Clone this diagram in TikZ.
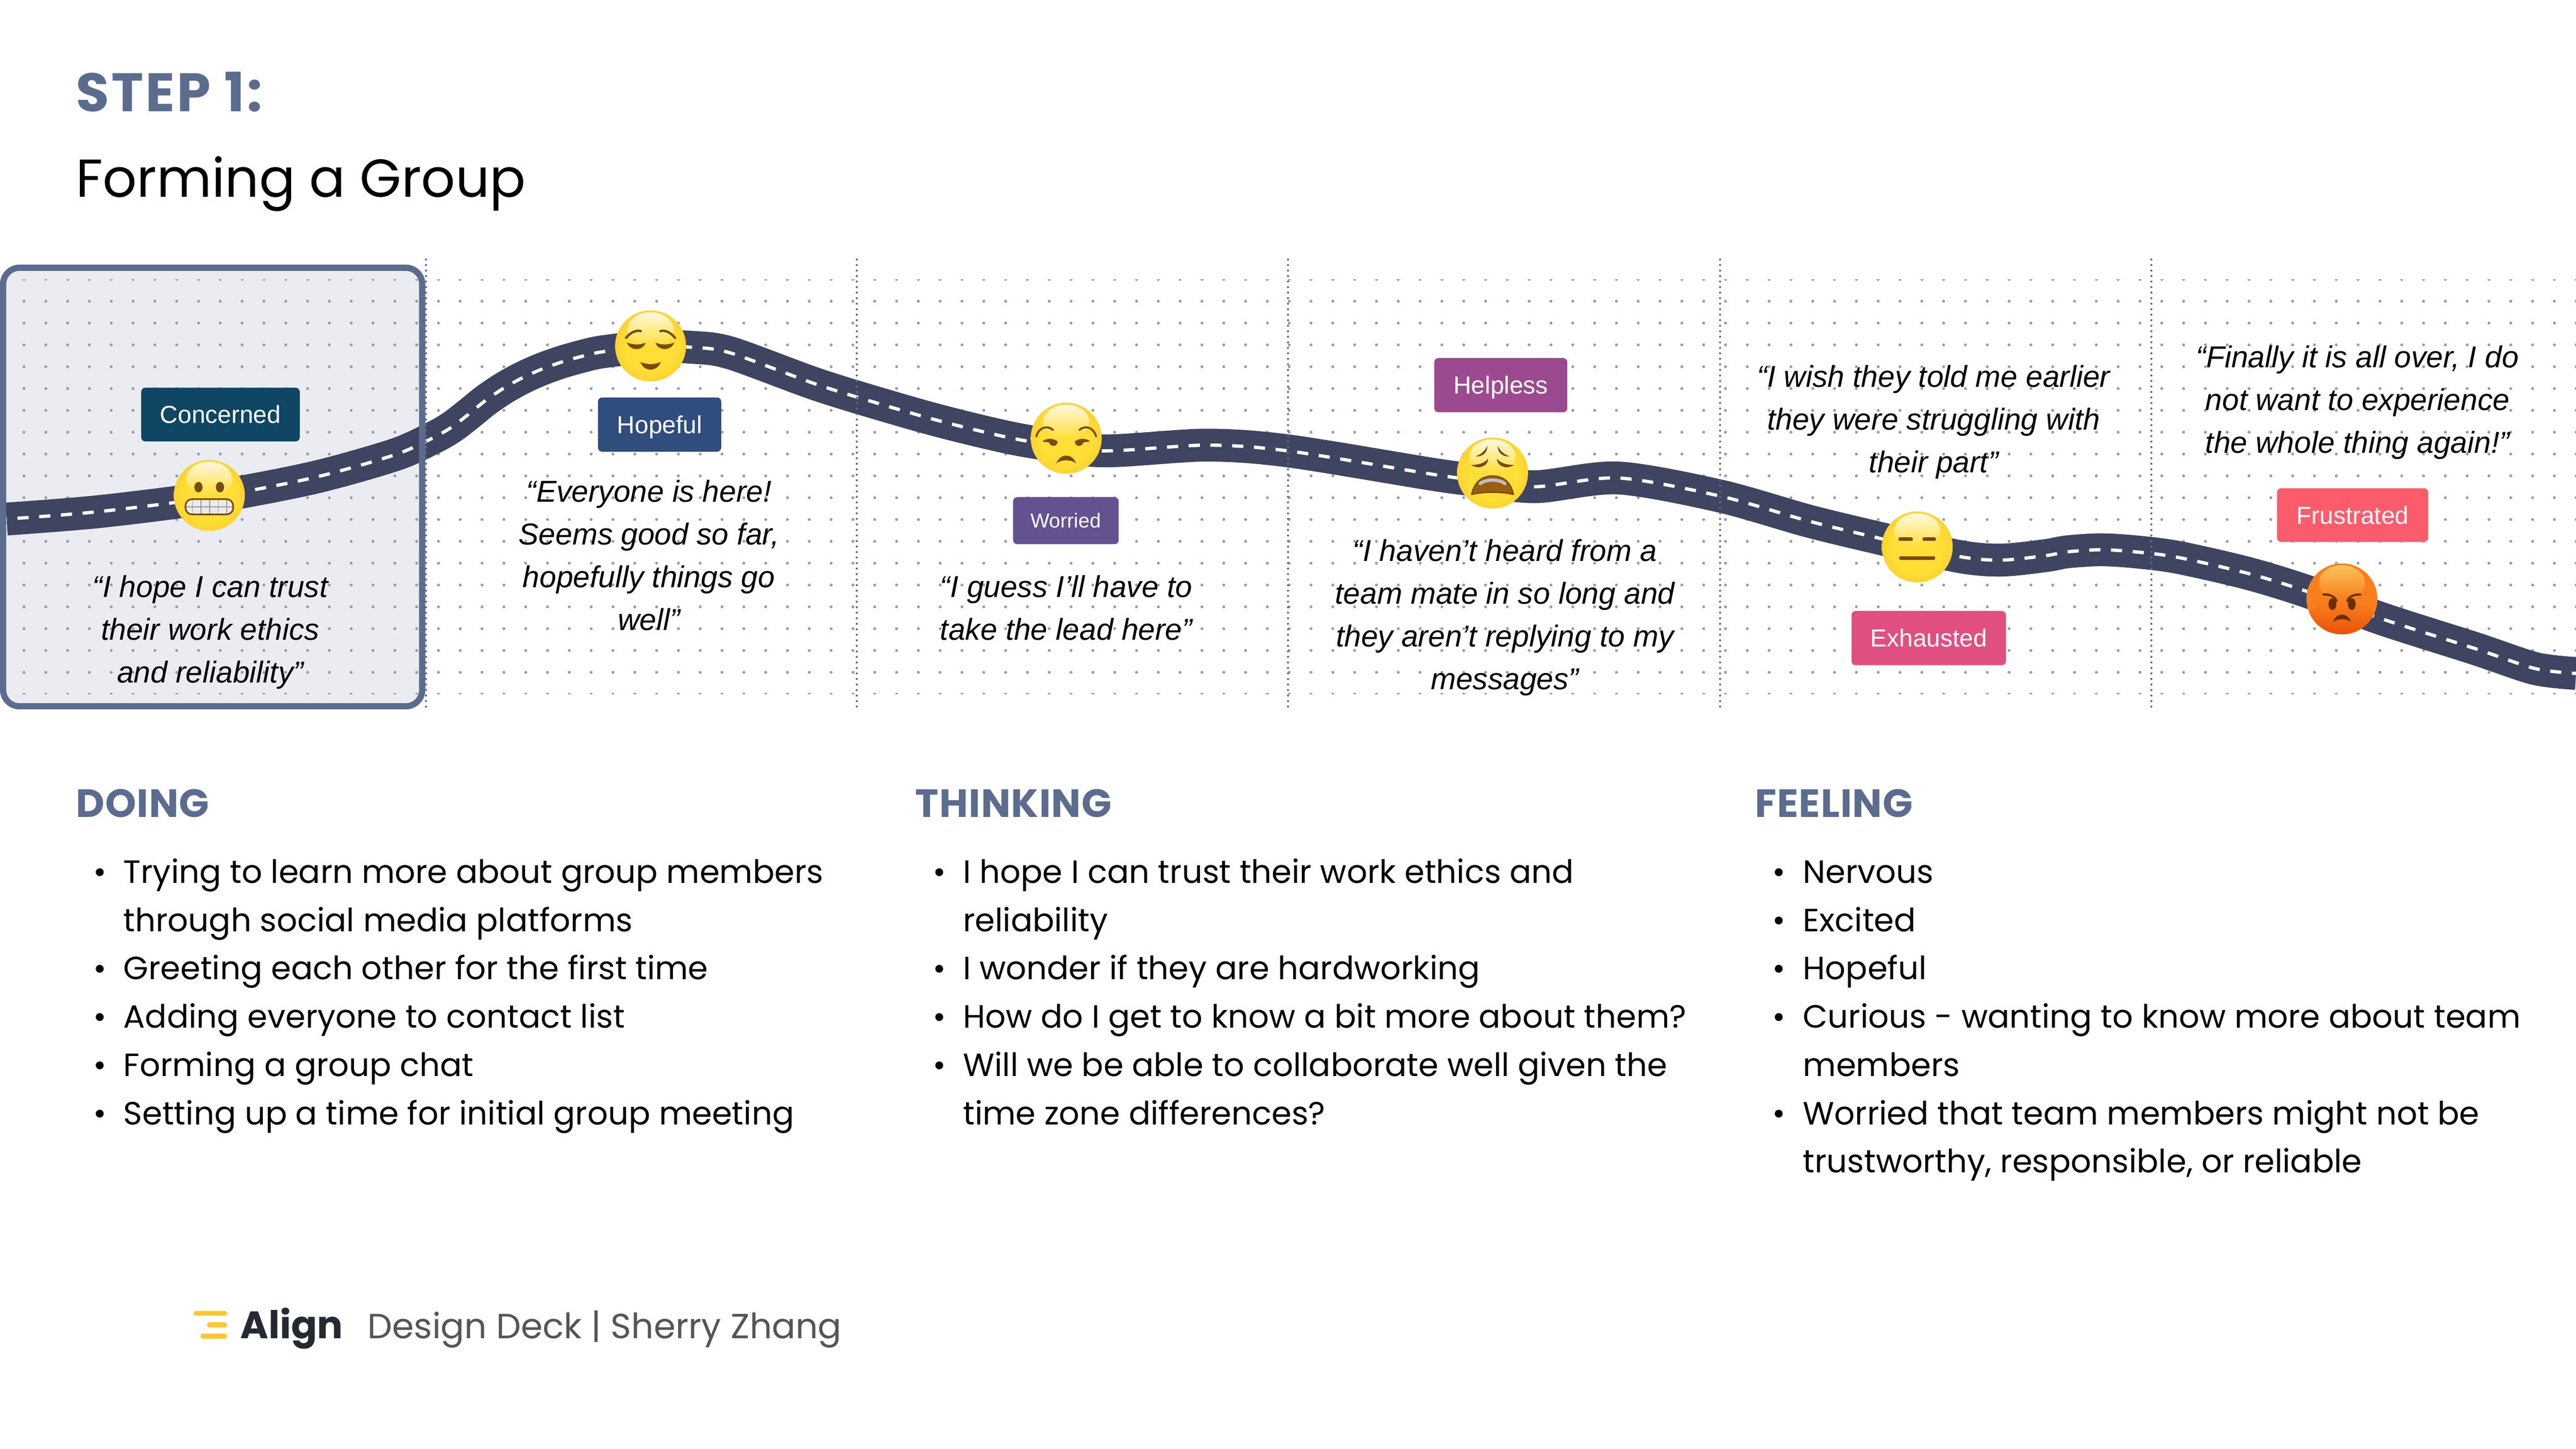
\documentclass[tikz,border=0pt]{standalone}
\usepackage{fontspec}
\usetikzlibrary{fadings}
\setmainfont{Poppins}
\newfontfamily\tagfont{Liberation Sans}
\definecolor{slatehead}{HTML}{5C6C8E}
\definecolor{panelfill}{HTML}{EAECF1}
\definecolor{griddot}{HTML}{979DA6}
\definecolor{roadblue}{HTML}{3F4560}
\definecolor{browbrown}{HTML}{7A4A0E}
\definecolor{mouthbrown}{HTML}{9A5E12}
\definecolor{facecore}{HTML}{FFDE35}
\definecolor{facemid}{HTML}{FCC22E}
\definecolor{faceedge}{HTML}{F2A316}
\definecolor{faceline}{HTML}{DB7F06}
\definecolor{angrycore}{HTML}{F97F1C}
\definecolor{angryedge}{HTML}{F06A10}
\definecolor{angrylow}{HTML}{EA5207}
\definecolor{angryhigh}{HTML}{FBCF66}
\definecolor{angryink}{HTML}{6B3000}
\definecolor{tagconcerned}{HTML}{0E4663}
\definecolor{taghopeful}{HTML}{2F4D7D}
\definecolor{tagworried}{HTML}{64518F}
\definecolor{taghelpless}{HTML}{9C4A8F}
\definecolor{tagexhausted}{HTML}{E04F80}
\definecolor{tagfrustrated}{HTML}{FB5C6C}
\definecolor{logoyellow}{HTML}{FFC72C}
\definecolor{logoink}{HTML}{252A32}
\definecolor{deckgrey}{HTML}{555555}
\pgfdeclareradialshading{yellowball}{\pgfpoint{0bp}{0bp}}{color(0bp)=(facecore); color(18bp)=(facecore); color(36bp)=(facemid); color(46bp)=(faceedge); color(50bp)=(faceline)}
\pgfdeclareradialshading{angryball}{\pgfpoint{0bp}{0bp}}{color(0bp)=(angrycore); color(30bp)=(angrycore); color(46bp)=(angryedge); color(50bp)=(angrylow)}
\newcommand{\faceball}[2]{
	\shade [shading=#1] (0,0) circle (21.6);
	\fill [#2, path fading=south, opacity=0.85] (0,10) ellipse (14 and 10.5);
}
\tikzset{
	pics/grimaceface/.style={code={
		\faceball{yellowball}{white}
		\fill [browbrown] (-6.6,5) ellipse (2.5 and 3.2);
		\fill [browbrown] (6.5,5) ellipse (2.5 and 3.2);
		\draw [browbrown, line width=1, fill=black!8, rounded corners=4] (-14.5,-2.3) rectangle (14.5,-11.6);
		\draw [black!40, line width=0.5] (-14,-7) -- (14,-7);
		\foreach \gx in {-10.3,-5.1,0.2,5.4,10.6}
			\draw [black!40, line width=0.5] (\gx,-2.8) -- (\gx,-11.1);
	}},
	pics/reliefface/.style={code={
		\faceball{yellowball}{white}
		\foreach \sx in {-1,1} {
			\draw [browbrown, line width=1.4, line cap=round] (\sx*14.9,4.9) .. controls (\sx*12,8.5) and (\sx*8.5,9.8) .. (\sx*6,9);
			\fill [browbrown] (\sx*14.5,2) .. controls (\sx*10,0.5) and (\sx*6.5,0.5) .. (\sx*3,2) .. controls (\sx*4.5,-3) and (\sx*12,-3.5) .. cycle;
		}
		\fill [browbrown] (-6.2,-9.8) .. controls (-2,-11.5) and (2,-11.5) .. (6.2,-9.8) .. controls (4,-16) and (-4,-16) .. cycle;
	}},
	pics/unamusedface/.style={code={
		\faceball{yellowball}{white}
		\foreach \sx in {-1,1} {
			\draw [browbrown, line width=1.2, line cap=round] (\sx*18.2,1.1) .. controls (\sx*17,6) and (\sx*12,8.5) .. (\sx*8,5);
			\fill [browbrown] (\sx*14.6,-2) .. controls (\sx*12,0.2) and (\sx*8,0.2) .. (\sx*5.2,-2) .. controls (\sx*5.5,-5.5) and (\sx*9.5,-5.5) .. (\sx*10.5,-2.5) -- cycle;
		}
		\fill [browbrown] (-6.1,-15.3) .. controls (-3.5,-9) and (3.5,-9) .. (6.1,-15.3) .. controls (3,-12.8) and (-3,-12.8) .. cycle;
	}},
	pics/wearyface/.style={code={
		\faceball{yellowball}{white}
		\foreach \sx in {-1,1} {
			\fill [browbrown] (\sx*10.5,10.1) .. controls (\sx*7,11.3) and (\sx*4.5,13.5) .. (\sx*3.2,16.5) .. controls (\sx*3,12.5) and (\sx*6,9.8) .. cycle;
			\fill [browbrown] (\sx*13,4.9) .. controls (\sx*8.5,4.9) and (\sx*4.5,6.2) .. (\sx*2.7,8.8) .. controls (\sx*2.5,5) and (\sx*7.5,1.5) .. cycle;
		}
		\draw [browbrown, line width=0.8, fill=mouthbrown, line join=round] (-12.7,-13) .. controls (-11,-5) and (-6,-1.8) .. (0,-1.8) .. controls (6,-1.8) and (11,-5) .. (12.7,-13) .. controls (5,-11.2) and (-5,-11.2) .. cycle;
		\draw [black!25, line width=2, line cap=round] (-7.5,-6.4) .. controls (-4,-3.6) and (4,-3.6) .. (7.5,-6.4);
	}},
	pics/blankface/.style={code={
		\faceball{yellowball}{white}
		\draw [browbrown, line width=2.2, line cap=round] (-10.4,4.7) -- (-3.7,4.7);
		\draw [browbrown, line width=2.2, line cap=round] (4.2,4.7) -- (10.4,4.7);
		\draw [browbrown, line width=2.2, line cap=round] (-10,-6.7) -- (9.9,-6.7);
	}},
	pics/angryface/.style={code={
		\faceball{angryball}{angryhigh}
		\begin{scope}
			\clip (0,0) circle (21.6);
			\fill [angrylow, path fading=north] (0,-12) ellipse (22 and 10);
		\end{scope}
		\fill [angryink] (-5.8,-3.2) ellipse (2.4 and 3.6);
		\fill [angryink] (6,-3.2) ellipse (2.4 and 3.6);
		\draw [angryink, line width=1.3, line cap=round] (-11.2,2.6) .. controls (-7,3) and (-4,1) .. (-3.3,-1.3);
		\draw [angryink, line width=1.3, line cap=round] (11.2,2.6) .. controls (7,3) and (4,1) .. (3.3,-1.3);
		\fill [angryink] (-5.5,-14.2) .. controls (-3.5,-8) and (3.5,-8) .. (5.6,-14.2) .. controls (3,-11.8) and (-3,-11.8) .. cycle;
	}}
}
\newcommand{\roadline}{(4,-316) (60,-311.5) (127,-303) (190,-291) (240,-277) (263.5,-266.6) (275,-260) (285.7,-251.8) (295.7,-243.7) (306.5,-236.4) (317.6,-230.2) (329.4,-224.9) (341.7,-220.5) (354,-217) (366.7,-214.2) (396,-211) (422,-211.5) (445,-215) (500,-235) (560,-253) (599,-263) (628,-269) (671,-274.5) (734,-271) (784,-274.5) (871,-288.6) (900,-292.5) (935,-296.3) (985,-291) (1047,-302) (1100,-317) (1141,-327) (1192,-338.7) (1218,-341) (1245,-338.3) (1258,-336) (1278,-334.7) (1298,-335.8) (1325,-339.2) (1368,-349) (1404,-360) (1450.6,-377) (1507,-395) (1543,-407) (1568,-410)}
\begin{document}
\begin{tikzpicture}[x=1pt,y=1pt]
	\tikzstyle{every node}+=[inner sep=0pt]
	\tikzstyle{tagbox}=[rounded corners=2.5, text=white, font=\tagfont\fontsize{15}{18}\selectfont, text height=10.7, text depth=0, align=center]
	\tikzstyle{quote}=[align=center, font=\tagfont\itshape\fontsize{18.4}{26}\selectfont]
	\tikzstyle{bodyline}=[anchor=base west, font=\fontsize{19.6}{24}\selectfont]
	\tikzstyle{headline}=[anchor=base west, text=slatehead, font=\bfseries\addfontfeatures{LetterSpace=1.5}\fontsize{24}{28}\selectfont]
	\tikzstyle{bulletdot}=[circle, fill=black, minimum size=4.8]
	\useasboundingbox (0,0) rectangle (1568,-882);
	% first column panel
	\fill [panelfill, rounded corners=10] (1.9,-163) rectangle (257,-430);
	% dot grid
	\begin{scope}
		\clip (0,-170) rectangle (1568,-422.6);
		\foreach \gc in {0,...,117}
			\foreach \gr in {0,...,19}
				\fill [griddot] (14.6+13.278*\gc,-170.1-13.29*\gr) circle (0.9);
	\end{scope}
	% road
	\draw [roadblue, line width=20] plot [smooth, tension=0.5] coordinates {\roadline};
	\draw [white, line width=2, dash pattern=on 6.8pt off 6.45pt, dash phase=6.6pt] plot [smooth, tension=0.5] coordinates {\roadline};
	\draw [slatehead, line width=3.8, rounded corners=10] (1.9,-163) rectangle (257,-430);
	% dividers
	\foreach \dx in {259.3,521.5,784,1047,1309.5}
		\draw [slatehead, line width=1.3, line cap=round, dash pattern=on 0pt off 3.36pt] (\dx,-158) -- (\dx,-432);
	% faces
	\pic (grimace) at (127.4,-301.6) {grimaceface};
	\pic (relief) at (396,-210.6) {reliefface};
	\pic (unamused) at (649,-266.8) {unamusedface};
	\pic (weary) at (908.5,-288) {wearyface};
	\pic (blank) at (1167,-333) {blankface};
	\pic (angry) at (1425.5,-364.6) {angryface};
	% feeling tags
	\node [tagbox, fill=tagconcerned, minimum width=96.5, minimum height=32.7] (concerned) at (134.2,-252.4) {Concerned};
	\node [tagbox, fill=taghopeful, minimum width=75, minimum height=33] (hopeful) at (401.5,-258.5) {Hopeful};
	\node [tagbox, fill=tagworried, minimum width=64.3, minimum height=28.6, font=\tagfont\fontsize{12.3}{15}\selectfont, text height=8.8] (worried) at (648.8,-317) {Worried};
	\node [tagbox, fill=taghelpless, minimum width=81, minimum height=33] (helpless) at (913.5,-234.5) {Helpless};
	\node [tagbox, fill=tagexhausted, minimum width=94, minimum height=33] (exhausted) at (1174,-388.5) {Exhausted};
	\node [tagbox, fill=tagfrustrated, minimum width=92, minimum height=32.7] (frustrated) at (1432,-313.6) {Frustrated};
	% quotes
	\node [quote] (quoteone) at (128,-385) {“I hope I can trust\\their work ethics\\and reliability”};
	\node [quote] (quotetwo) at (395,-338) {“Everyone is here!\\Seems good so far,\\hopefully things go\\well”};
	\node [quote] (quotethree) at (649,-370) {“I guess I’ll have to\\take the lead here”};
	\node [quote] (quotefour) at (916,-376) {“I haven’t heard from a\\team mate in so long and\\they aren’t replying to my\\messages”};
	\node [quote] (quotefive) at (1177,-257) {“I wish they told me earlier\\they were struggling with\\their part”};
	\node [quote] (quotesix) at (1435,-245) {“Finally it is all over, I do\\not want to experience\\the whole thing again!”};
	% title
	\node [anchor=base west, text=slatehead, font=\bfseries\addfontfeatures{LetterSpace=4}\fontsize{33}{38}\selectfont] (steptitle) at (46,-67.8) {STEP 1:};
	\node [anchor=base west, font=\fontsize{32.5}{38}\selectfont] (grouptitle) at (46,-120) {Forming a Group};
	% doing
	\node [headline] (doinghead) at (46,-497.5) {DOING};
	\node [bulletdot] (doa) at (60.7,-531) {};
	\node [bodyline] (doatext) at (75,-537.6) {Trying to learn more about group members};
	\node [bodyline] (dobtext) at (75,-567) {through social media platforms};
	\node [bulletdot] (doc) at (60.7,-589.8) {};
	\node [bodyline] (doctext) at (75,-596.4) {Greeting each other for the first time};
	\node [bulletdot] (dod) at (60.7,-619.2) {};
	\node [bodyline] (dodtext) at (75,-625.8) {Adding everyone to contact list};
	\node [bulletdot] (doe) at (60.7,-648.6) {};
	\node [bodyline] (doetext) at (75,-655.2) {Forming a group chat};
	\node [bulletdot] (dof) at (60.7,-678) {};
	\node [bodyline] (doftext) at (75,-684.6) {Setting up a time for initial group meeting};
	% thinking
	\node [headline] (thinkhead) at (557,-497.5) {THINKING};
	\node [bulletdot] (tha) at (571.7,-531) {};
	\node [bodyline] (thatext) at (586,-537.6) {I hope I can trust their work ethics and};
	\node [bodyline] (thbtext) at (586,-567) {reliability};
	\node [bulletdot] (thc) at (571.7,-589.8) {};
	\node [bodyline] (thctext) at (586,-596.4) {I wonder if they are hardworking};
	\node [bulletdot] (thd) at (571.7,-619.2) {};
	\node [bodyline] (thdtext) at (586,-625.8) {How do I get to know a bit more about them?};
	\node [bulletdot] (the) at (571.7,-648.6) {};
	\node [bodyline] (thetext) at (586,-655.2) {Will we be able to collaborate well given the};
	\node [bodyline] (thftext) at (586,-684.6) {time zone differences?};
	% feeling
	\node [headline] (feelhead) at (1068,-497.5) {FEELING};
	\node [bulletdot] (fea) at (1082.7,-531) {};
	\node [bodyline] (featext) at (1097.3,-537.6) {Nervous};
	\node [bulletdot] (feb) at (1082.7,-560.4) {};
	\node [bodyline] (febtext) at (1097.3,-567) {Excited};
	\node [bulletdot] (fec) at (1082.7,-589.8) {};
	\node [bodyline] (fectext) at (1097.3,-596.4) {Hopeful};
	\node [bulletdot] (fed) at (1082.7,-619.2) {};
	\node [bodyline] (fedtext) at (1097.3,-625.8) {Curious - wanting to know more about team};
	\node [bodyline] (fee) at (1097.3,-655.2) {members};
	\node [bulletdot] (fef) at (1082.7,-678) {};
	\node [bodyline] (feftext) at (1097.3,-684.6) {Worried that team members might not be};
	\node [bodyline] (feg) at (1097.3,-714) {trustworthy, responsible, or reliable};
	% footer
	\draw [logoyellow, line width=3, line cap=round] (119.3,-799.5) -- (136.8,-799.5);
	\draw [logoyellow, line width=3, line cap=round] (127.5,-806.5) -- (136.8,-806.5);
	\draw [logoyellow, line width=3, line cap=round] (123.5,-813.5) -- (136.8,-813.5);
	\node [anchor=base west, text=logoink, font=\bfseries\fontsize{23.3}{28}\selectfont] (alignmark) at (146.2,-815) {Align};
	\node [anchor=base west, text=deckgrey, font=\fontsize{21.3}{26}\selectfont] (decknote) at (223.6,-815) {Design Deck | Sherry Zhang};
\end{tikzpicture}
\end{document}
